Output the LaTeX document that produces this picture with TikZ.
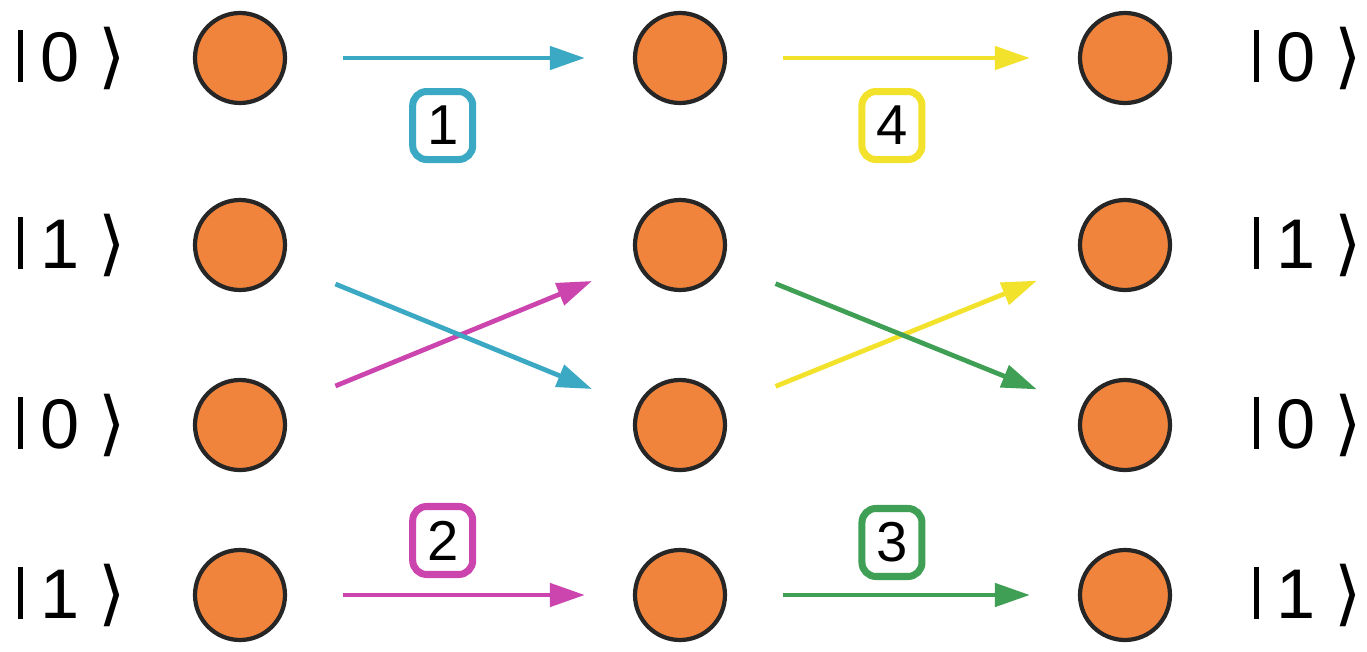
\documentclass[tikz,border=0pt]{standalone}
\usepackage{fontspec}
\setmainfont{Liberation Sans}
\newfontfamily\symfont{DejaVu Sans}
\usetikzlibrary{arrows.meta, positioning}
\definecolor{colorO}{HTML}{F0843C}
\definecolor{colorT}{HTML}{3BA9C4}
\definecolor{colorM}{HTML}{CC45AE}
\definecolor{colorY}{HTML}{F2E22C}
\definecolor{colorG}{HTML}{3F9F55}
\newcommand{\qket}[1]{\rule[-0.01em]{0.07em}{0.74em}\hspace{0.26em}#1\hspace{0.27em}%
  \raisebox{0.02em}{\symfont ⟩}}
\tikzset{
  qdot/.style={circle, draw=black!85, line width=1.2pt, fill=colorO,
    minimum size=0.9cm, inner sep=0pt},
  ketlbl/.style={font=\fontsize{20}{24}\selectfont},
  gatebox/.style={draw=#1, line width=2pt, rounded corners=0.14cm, fill=white,
    minimum width=0.6cm, minimum height=0.68cm, inner sep=0pt,
    font=\fontsize{16}{19}\selectfont},
  gatearrow/.style={draw=#1, line width=1.35pt,
    -{Triangle[length=0.35cm,width=0.23cm]},
    shorten <=0.56cm, shorten >=0.48cm}
}

\begin{document}
\begin{tikzpicture}
\useasboundingbox (0,0) rectangle (13.67,-6.52);

% qubit register, three time slices
\foreach \y/\v [count=\i] in {0.58/0, 2.45/1, 4.25/0, 5.95/1} {
  \node[ketlbl] (kl\i) at (0.72,-\y) {\qket{\v}};
  \node[qdot] (a\i) at (2.40,-\y) {};
  \node[qdot] (b\i) at (6.80,-\y) {};
  \node[qdot] (c\i) at (11.25,-\y) {};
  \node[ketlbl] (kr\i) at (13.08,-\y) {\qket{\v}};
}

% first slice
\draw[gatearrow=colorT] (a1) -- node[gatebox=colorT, pos=0.45, below=0.3cm] (g1) {1} (b1);
\draw[gatearrow=colorM] (a3) -- (b2);
\draw[gatearrow=colorT] (a2) -- (b3);
\draw[gatearrow=colorM] (a4) -- node[gatebox=colorM, pos=0.45, above=0.17cm] (g2) {2} (b4);

% second slice
\draw[gatearrow=colorY] (b1) -- node[gatebox=colorY, pos=0.47, below=0.3cm] (g4) {4} (c1);
\draw[gatearrow=colorY] (b3) -- (c2);
\draw[gatearrow=colorG] (b2) -- (c3);
\draw[gatearrow=colorG] (b4) -- node[gatebox=colorG, pos=0.47, above=0.15cm] (g3) {3} (c4);
\end{tikzpicture}
\end{document}
